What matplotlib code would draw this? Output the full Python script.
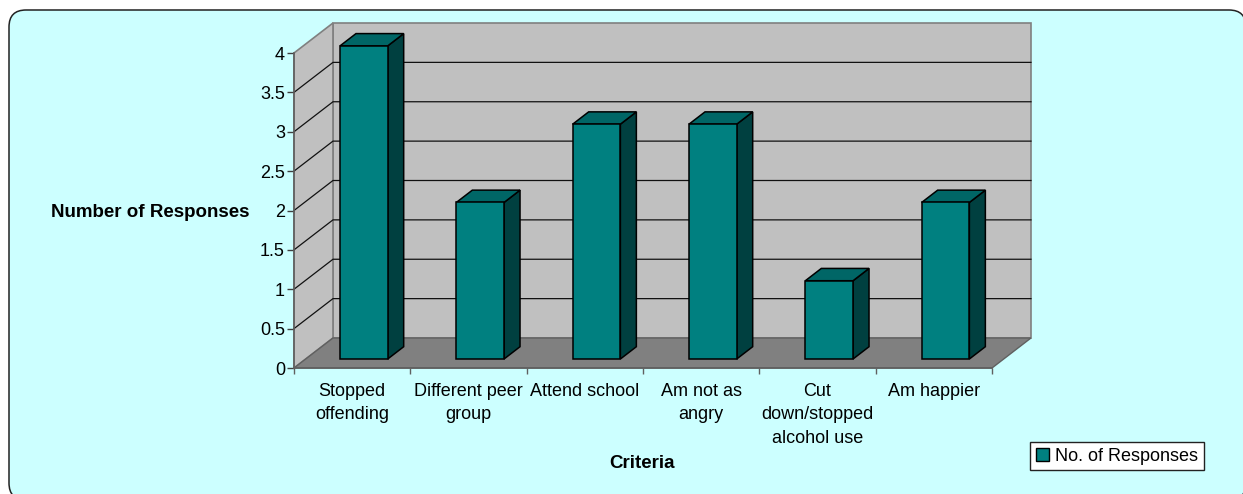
import matplotlib
matplotlib.use("Agg")
import matplotlib.pyplot as plt
from matplotlib.patches import FancyBboxPatch, Polygon
from matplotlib.transforms import IdentityTransform

plt.rcParams['font.family'] = ['Liberation Sans', 'DejaVu Sans']

categories = ["Stopped\noffending", "Different peer\ngroup", "Attend school",
              "Am not as\nangry", "Cut\ndown/stopped\nalcohol use", "Am happier"]
responses = [4, 2, 3, 3, 1, 2]
y_ticks = [0, 0.5, 1, 1.5, 2, 2.5, 3, 3.5, 4]
y_labels = ["0", "0.5", "1", "1.5", "2", "2.5", "3", "3.5", "4"]
series_name = "No. of Responses"

W = 1243
H = 494
BG = "#CCFFFF"
WALL = "#C0C0C0"
FLOOR = "#808080"
TEAL = "#008080"
TEAL_TOP = "#006666"
TEAL_SIDE = "#004040"

# oblique offset of the back wall, in category and value units
DEPTH_X = 39 / 116.4
DEPTH_Y = 30 / 78.75
BAR_W = 0.41
BAR_FRONT = 0.30
BAR_BACK = 0.71
BAR_SCALE = 0.994   # bars come out a touch shorter than the axis scale


def project(x, y, d):
    return (x + d * DEPTH_X, y + d * DEPTH_Y)


fig = plt.figure(figsize=(W / 100, H / 100), dpi=100, facecolor="white")

# the panel runs off the right and bottom of the image
bg = FancyBboxPatch((9, -6), 1237, 490, boxstyle="round,pad=0,rounding_size=17",
                    transform=IdentityTransform(), facecolor=BG, edgecolor="#222222", linewidth=1.1,
                    zorder=-1)
fig.add_artist(bg)

ax = fig.add_axes([294 / W, 1 - 368 / H, (992 - 294) / W, (368 - 53) / H])
ax.patch.set_visible(False)
n = len(categories)
top = y_ticks[-1]
ax.set_xlim(0, n)
ax.set_ylim(0, top)

# walls and floor
edge = dict(edgecolor=FLOOR, linewidth=1.2, clip_on=False)
ax.add_patch(Polygon([project(0, 0, 1), project(n, 0, 1), project(n, top, 1), project(0, top, 1)],
                     facecolor=WALL, zorder=1, **edge))
ax.add_patch(Polygon([project(0, 0, 0), project(0, 0, 1), project(0, top, 1), project(0, top, 0)],
                     facecolor=WALL, zorder=1, **edge))
ax.add_patch(Polygon([project(0, 0, 0), project(n, 0, 0), project(n, 0, 1), project(0, 0, 1)],
                     facecolor=FLOOR, zorder=1, edgecolor="#606060", linewidth=1, clip_on=False))

# gridlines wrap from the side wall onto the back wall
for v in y_ticks[1:-1]:
    p0 = project(0, v, 0)
    p1 = project(0, v, 1)
    p2 = project(n, v, 1)
    ax.plot([p0[0], p1[0], p2[0]], [p0[1], p1[1], p2[1]], color="#111111", lw=0.9,
            clip_on=False, zorder=2, solid_joinstyle="miter")

# bars
bar_edge = dict(edgecolor="black", linewidth=1.1, clip_on=False, zorder=3, joinstyle="miter")
for i, val in enumerate(responses):
    left = i + 0.5 - BAR_W / 2
    right = i + 0.5 + BAR_W / 2
    h = val * BAR_SCALE
    ax.add_patch(Polygon([project(right, 0, BAR_FRONT), project(right, 0, BAR_BACK),
                          project(right, h, BAR_BACK), project(right, h, BAR_FRONT)],
                         facecolor=TEAL_SIDE, **bar_edge))
    ax.add_patch(Polygon([project(left, h, BAR_FRONT), project(right, h, BAR_FRONT),
                          project(right, h, BAR_BACK), project(left, h, BAR_BACK)],
                         facecolor=TEAL_TOP, **bar_edge))
    ax.add_patch(Polygon([project(left, 0, BAR_FRONT), project(right, 0, BAR_FRONT),
                          project(right, h, BAR_FRONT), project(left, h, BAR_FRONT)],
                         facecolor=TEAL, **bar_edge))

# axes
for s in ["top", "right"]:
    ax.spines[s].set_visible(False)
for s in ["left", "bottom"]:
    ax.spines[s].set_color("#606060")
    ax.spines[s].set_linewidth(1.2)
    ax.spines[s].set_zorder(2.5)

ax.set_yticks(y_ticks)
ax.set_yticklabels(y_labels, fontsize=13, color="black")
ax.tick_params(axis="y", length=5, width=1, color="#404040", pad=1.5)
ax.set_xticks(range(n + 1))
ax.set_xticklabels([""] * (n + 1))
ax.set_xticks([i + 0.5 for i in range(n)], minor=True)
ax.set_xticklabels(categories, minor=True, fontsize=13, linespacing=1.5)
ax.tick_params(axis="x", which="major", length=4.5, width=1, color="#606060")
ax.tick_params(axis="x", which="minor", length=0, pad=10.5)

fig.text(150.5 / W, 1 - 212 / H, "Number of Responses", fontsize=13.5, fontweight="bold",
         ha="center", va="center")
fig.text(642 / W, 1 - 463.5 / H, "Criteria", fontsize=13.5, fontweight="bold",
         ha="center", va="center")

handle = plt.Rectangle((0, 0), 1, 1, facecolor=TEAL, edgecolor="black", linewidth=1)
leg = fig.legend([handle], [series_name], loc="center", bbox_to_anchor=(1117 / W, 1 - 456 / H),
                 fontsize=13, fancybox=False, framealpha=1, facecolor="white", edgecolor="#222222",
                 handlelength=0.75, handleheight=0.75, handletextpad=0.35, borderpad=0.3, borderaxespad=0)
leg.get_frame().set_linewidth(1)

fig.savefig("out.png", dpi=100, facecolor="white")
